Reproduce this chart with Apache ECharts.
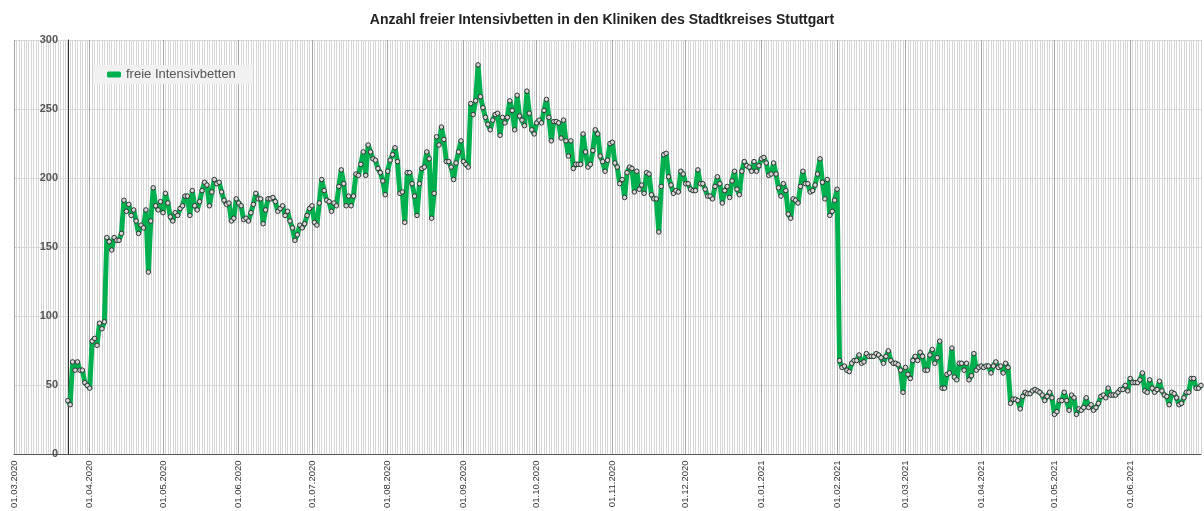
<!DOCTYPE html>
<html>
<head>
<meta charset="utf-8">
<script src="https://cdn.jsdelivr.net/npm/echarts@6/dist/echarts.min.js"></script>
<style>
html,body{margin:0;padding:0;background:#fff;}
#chart{width:1204px;height:511px;}
</style>
</head>
<body>
<div id="chart"></div>
<script>
// ---- Data ----
const TITLE = 'Anzahl freier Intensivbetten in den Kliniken des Stadtkreises Stuttgart';
const SERIES_NAME = 'freie Intensivbetten';
const AXIS_START = [2020, 2, 1];   // 01.03.2020
const AXIS_DAYS = 487;             // to 30.06.2021
const FIRST_VALUE_DATE = '23.03.2020';
const yTicks = [0, 50, 100, 150, 200, 250, 300];

const mar2020 = [39, 36, 67, 61, 67, 61, 61, 52, 50];
const apr2020 = [48, 82, 84, 79, 95, 91, 96, 157, 154, 148, 157, 155, 155, 160, 184, 176, 181, 173, 177, 169, 160, 166, 164, 177, 132, 169, 193, 180, 177, 183];
const may2020 = [175, 189, 182, 172, 169, 175, 173, 178, 180, 187, 187, 173, 191, 180, 177, 183, 191, 197, 195, 180, 190, 199, 196, 197, 190, 184, 181, 182, 169, 171, 185];
const jun2020 = [182, 180, 170, 171, 169, 175, 181, 189, 185, 185, 167, 177, 185, 185, 186, 183, 176, 178, 180, 173, 176, 169, 164, 155, 159, 166, 164, 167, 173, 178];
const jul2020 = [180, 168, 166, 182, 199, 191, 184, 183, 176, 182, 180, 194, 206, 196, 180, 187, 180, 187, 203, 202, 210, 219, 202, 224, 219, 214, 213, 207, 204, 198, 188];
const aug2020 = [205, 213, 217, 222, 212, 189, 190, 168, 204, 204, 196, 187, 173, 196, 207, 208, 219, 214, 171, 189, 230, 224, 237, 228, 212, 212, 208, 199, 211, 219, 227];
const sep2020 = [212, 210, 208, 254, 246, 256, 282, 259, 251, 244, 239, 235, 242, 246, 247, 231, 244, 240, 244, 256, 249, 235, 260, 245, 242, 238, 263, 247, 235, 232];
const oct2020 = [240, 242, 240, 249, 257, 244, 227, 241, 241, 240, 229, 242, 227, 216, 227, 207, 210, 210, 210, 232, 219, 208, 210, 220, 235, 232, 216, 212, 205, 213, 225];
const nov2020 = [226, 211, 208, 196, 199, 186, 204, 208, 207, 190, 205, 192, 195, 189, 204, 203, 188, 185, 185, 161, 194, 217, 218, 201, 195, 189, 191, 190, 205, 203];
const dec2020 = [196, 196, 192, 191, 191, 206, 196, 196, 192, 187, 187, 185, 194, 201, 196, 182, 191, 194, 186, 198, 205, 192, 188, 205, 212, 209, 208, 205, 212, 205, 209];
const jan2021 = [214, 215, 211, 202, 203, 211, 203, 193, 187, 196, 191, 174, 171, 185, 184, 182, 194, 205, 196, 196, 190, 191, 195, 203, 214, 197, 185, 199, 173, 176, 184];
const feb2021 = [192, 68, 63, 64, 61, 60, 66, 68, 68, 72, 66, 67, 73, 71, 71, 71, 73, 72, 70, 66, 71, 75, 68, 66, 66, 65, 61, 45];
const mar2021 = [63, 58, 55, 68, 71, 68, 74, 71, 61, 61, 72, 76, 66, 70, 82, 48, 48, 58, 59, 77, 56, 54, 66, 66, 61, 66, 54, 57, 73, 61, 63];
const apr2021 = [64, 63, 64, 64, 59, 64, 67, 63, 64, 59, 66, 63, 37, 40, 40, 39, 33, 42, 45, 44, 44, 46, 47, 46, 45, 43, 39, 42, 45, 41];
const may2021 = [29, 31, 39, 39, 45, 39, 32, 43, 41, 29, 33, 32, 34, 41, 34, 36, 32, 34, 37, 42, 43, 41, 48, 43, 43, 43, 45, 47, 47, 50, 46];
const jun2021 = [55, 52, 52, 52, 54, 59, 46, 45, 54, 48, 45, 47, 53, 46, 43, 42, 36, 45, 44, 41, 36, 37, 41, 45, 45, 55, 55, 48, 48, 50];

// ---- Build ----
function pad(n){return (n<10?'0':'')+n;}
const categories = [];
const t0 = Date.UTC(AXIS_START[0], AXIS_START[1], AXIS_START[2]);
for (let i = 0; i < AXIS_DAYS; i++) {
  const d = new Date(t0 + i * 86400000);
  categories.push(pad(d.getUTCDate()) + '.' + pad(d.getUTCMonth() + 1) + '.' + d.getUTCFullYear());
}
const values = [].concat(mar2020, apr2020, may2020, jun2020, jul2020, aug2020, sep2020, oct2020, nov2020, dec2020,
                         jan2021, feb2021, mar2021, apr2021, may2021, jun2021);
const startIdx = categories.indexOf(FIRST_VALUE_DATE);
const seriesData = categories.map((c, i) => (i >= startIdx && i - startIdx < values.length) ? values[i - startIdx] : null);
const isMonthStart = (idx, val) => categories[idx].slice(0, 3) === '01.';

const FONT = 'Liberation Sans, Arial, sans-serif';
const GREEN = '#00b04f';
const chart = echarts.init(document.getElementById('chart'), null, {renderer: 'canvas'});
chart.setOption({
  animation: false,
  backgroundColor: '#ffffff',
  textStyle: {fontFamily: FONT},
  title: {
    text: TITLE, left: 'center', top: 13, padding: 0,
    textStyle: {fontSize: 14, fontWeight: 'bold', color: '#222', fontFamily: FONT}
  },
  legend: {
    left: 93, top: 65, padding: [3, 17, 3, 14],
    backgroundColor: '#f1f1f1',
    itemWidth: 14, itemHeight: 6, itemGap: 10,
    textStyle: {fontSize: 13, color: '#555', fontFamily: FONT},
    data: [{name: SERIES_NAME, icon: 'roundRect', itemStyle: {color: GREEN, borderWidth: 0}}]
  },
  grid: {left: 14, right: 3, top: 40, bottom: 54, containLabel: false},
  xAxis: [{
    type: 'category', data: categories, boundaryGap: false, position: 'bottom',
    axisLine: {show: true, lineStyle: {color: '#555', width: 1}},
    axisTick: {show: false},
    axisLabel: {show: false},
    splitLine: {show: true, interval: 0, lineStyle: {color: '#d6d6d6', width: 1}}
  }, {
    type: 'category', data: categories, boundaryGap: false, position: 'bottom',
    axisLine: {show: false}, axisTick: {show: false},
    axisLabel: {show: true, interval: isMonthStart, rotate: 90, fontSize: 9.5, color: '#333', margin: 6, fontFamily: FONT},
    splitLine: {show: true, interval: isMonthStart, lineStyle: {color: '#a6a6a6', width: 1}}
  }],
  yAxis: {
    type: 'value', min: yTicks[0], max: yTicks[yTicks.length - 1], interval: 50, offset: -54,
    axisLine: {show: true, lineStyle: {color: '#333', width: 1}},
    axisTick: {show: false},
    axisLabel: {fontSize: 11, fontWeight: 'bold', color: '#555', margin: 10, fontFamily: FONT},
    splitLine: {show: true, lineStyle: {color: '#d8d8d8', width: 1}}
  },
  series: [{
    type: 'line', name: SERIES_NAME, xAxisIndex: 0, yAxisIndex: 0,
    data: seriesData, connectNulls: false,
    symbol: 'circle', symbolSize: 4.5, showSymbol: true, showAllSymbol: true,
    lineStyle: {color: GREEN, width: 5},
    itemStyle: {color: '#d6d6d6', borderColor: '#333', borderWidth: 1},
    emphasis: {disabled: true},
    z: 5
  }]
});
</script>
</body>
</html>
